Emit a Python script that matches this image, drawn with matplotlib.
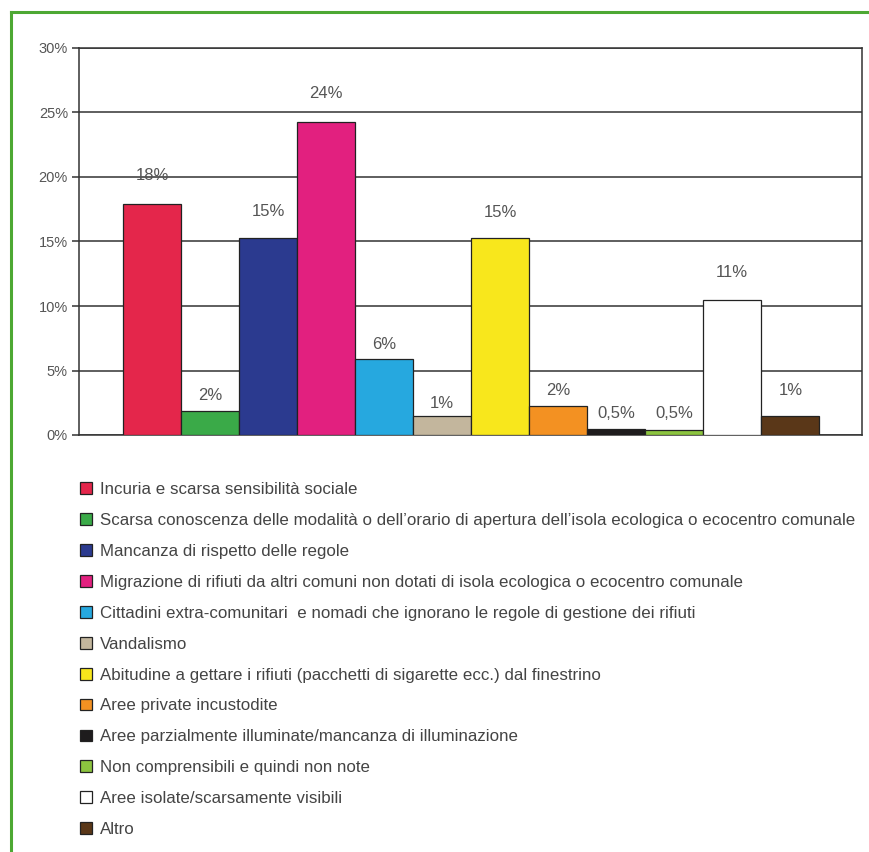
import matplotlib
matplotlib.use("Agg")
import matplotlib.pyplot as plt
from matplotlib.patches import Rectangle
from matplotlib.lines import Line2D

plt.rcParams['font.family'] = ['Liberation Sans', 'DejaVu Sans']

categories = [
    "Incuria e scarsa sensibilità sociale",
    "Scarsa conoscenza delle modalità o dell’orario di apertura dell’isola ecologica o ecocentro comunale",
    "Mancanza di rispetto delle regole",
    "Migrazione di rifiuti da altri comuni non dotati di isola ecologica o ecocentro comunale",
    "Cittadini extra-comunitari  e nomadi che ignorano le regole di gestione dei rifiuti",
    "Vandalismo",
    "Abitudine a gettare i rifiuti (pacchetti di sigarette ecc.) dal finestrino",
    "Aree private incustodite",
    "Aree parzialmente illuminate/mancanza di illuminazione",
    "Non comprensibili e quindi non note",
    "Aree isolate/scarsamente visibili",
    "Altro",
]
values = [17.9, 1.85, 15.3, 24.3, 5.9, 1.45, 15.3, 2.25, 0.5, 0.4, 10.5, 1.45]
value_labels = ["18%", "2%", "15%", "24%", "6%", "1%", "15%", "2%", "0,5%", "0,5%", "11%", "1%"]
yticks = [0, 5, 10, 15, 20, 25, 30]
ytick_labels = ["0%", "5%", "10%", "15%", "20%", "25%", "30%"]

colors = ["#E4264B", "#3AAA48", "#2B3A8F", "#E2207F", "#26A8DF", "#C3B69D",
          "#F8E71C", "#F39122", "#1E1C1D", "#8CC43F", "#FFFFFF", "#5A3718"]
label_offsets_px = [29, 16, 26, 28, 14, 13, 25, 15, 15, 16, 27, 26]

W, H = 870, 852
fig = plt.figure(figsize=(W / 100, H / 100), dpi=100)
fig.patch.set_facecolor("white")

ax_l, ax_r, ax_t, ax_b = 79, 862, 48, 435
ax = fig.add_axes([ax_l / W, 1 - ax_b / H, (ax_r - ax_l) / W, (ax_b - ax_t) / H])

xpos = list(range(len(values)))
bars = ax.bar(xpos, values, width=1.0, color=colors, edgecolor="#222222",
              linewidth=0.9, zorder=3)

ax.set_xlim(-0.5 - 0.757, len(values) - 0.5 + 0.735)
ax.set_ylim(0, 30)
ax.set_yticks(yticks)
ax.set_yticklabels(ytick_labels)
ax.set_xticks([])
ax.yaxis.grid(True, color="#333333", linewidth=1.1)
ax.set_axisbelow(True)
for s in ["left", "bottom", "right", "top"]:
    ax.spines[s].set_color("#333333")
    ax.spines[s].set_linewidth(1.1)
ax.tick_params(axis="y", length=5, width=1.1, color="#333333",
               labelsize=10.5, labelcolor="#555555", pad=3)

for b, lab, off in zip(bars, value_labels, label_offsets_px):
    ax.annotate(lab, (b.get_x() + b.get_width() / 2, b.get_height()),
                xytext=(0, off * 0.72), textcoords="offset points",
                ha="center", va="center", fontsize=12, color="#555555")

handles = [Rectangle((0, 0), 1, 1, facecolor=c, edgecolor="#222222", linewidth=0.9)
           for c in colors]
leg = fig.legend(handles, categories, loc="upper left",
                 bbox_to_anchor=(80 / W, 1 - 482 / H), frameon=False,
                 fontsize=12.2, labelcolor="#444444", handlelength=0.7,
                 handleheight=0.7, handletextpad=0.48, labelspacing=0.94,
                 borderpad=0, borderaxespad=0)

# green frame (top and left edges visible)
fig.add_artist(Line2D([11 / W, 11 / W], [0, 1 - 12 / H], transform=fig.transFigure,
                      color="#4DA833", linewidth=2.2))
fig.add_artist(Line2D([11 / W, 1.0], [1 - 12 / H, 1 - 12 / H], transform=fig.transFigure,
                      color="#4DA833", linewidth=2.2))

fig.savefig("out.png", dpi=100)
